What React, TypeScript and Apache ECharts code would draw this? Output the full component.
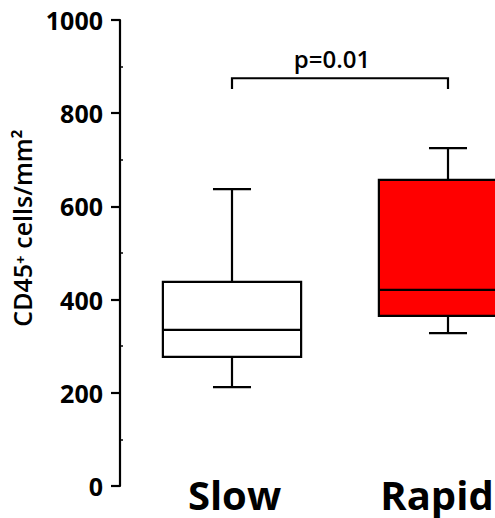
import React, { useEffect, useRef } from "react";
import * as echarts from "echarts";

const categories = ["Slow", "Rapid"];
// [categoryIndex, min, Q1, median, Q3, max]
const slowBox = [0, 212, 277, 335, 438, 637];
const rapidBox = [1, 328, 365, 421, 657, 725];
const boxFills = ["#ffffff", "#ff0000"];
// [fromCategory, toCategory, bracketValue, legEndValue]
const bracket = [0, 1, 875, 852];
const pLabel = "p=0.01";
const yTicks = [0, 200, 400, 600, 800, 1000];
const yMinorTicks = [100, 300, 500, 700, 900];
const yTitle = "CD45\u207A cells/mm\u00B2";

const FONT = "'Open Sans', 'DejaVu Sans', sans-serif";

export default function App() {
  const ref = useRef<HTMLDivElement>(null);
  useEffect(() => {
    if (!ref.current) return;
    const chart = echarts.init(ref.current, undefined, { renderer: "svg" });
    const lw = 2.2;
    const catStyle = { fontFamily: FONT, fontSize: 40, fontWeight: "bold", color: "#000" };
    chart.setOption({
      animation: false,
      backgroundColor: "#ffffff",
      grid: { left: 124, top: 20, height: 466, width: 432, outerBoundsMode: "none", containLabel: false },
      xAxis: {
        type: "category",
        data: categories,
        axisLine: { show: false },
        axisTick: { show: false },
        splitLine: { show: false },
        axisLabel: {
          ...catStyle,
          margin: -12,
          interval: 0,
          hideOverlap: false,
          showMinLabel: true,
          showMaxLabel: true,
          formatter: (v: string, i: number) => (i === 0 ? `{a|${v}}` : `{b|${v}}`),
          rich: {
            a: { ...catStyle, padding: [0, 0, 0, 5] },
            b: { ...catStyle, padding: [0, 22, 0, 0] },
          },
        },
      },
      yAxis: [
        {
          type: "value",
          min: yTicks[0],
          max: yTicks[yTicks.length - 1],
          interval: 200,
          offset: 4,
          name: yTitle,
          nameLocation: "middle",
          nameRotate: 90,
          nameGap: 80,
          nameTextStyle: {
            fontFamily: FONT,
            fontSize: 25,
            fontWeight: 600,
            color: "#000",
            padding: [0, 0, 0, 50],
          },
          axisLine: { show: true, lineStyle: { color: "#000", width: 2.2 } },
          axisTick: { show: true, length: 9, lineStyle: { color: "#000", width: 2.2 } },
          splitLine: { show: false },
          axisLabel: {
            fontFamily: FONT,
            fontSize: 25,
            fontWeight: "bold",
            color: "#000",
            margin: 17,
            formatter: (v: number) => String(v),
          },
        },
        {
          type: "value",
          min: yTicks[0],
          max: yTicks[yTicks.length - 1],
          position: "left",
          offset: 4,
          axisLine: { show: false },
          axisLabel: { show: false },
          splitLine: { show: false },
          axisTick: {
            show: true,
            inside: true,
            length: 3,
            customValues: yMinorTicks,
            lineStyle: { color: "#000", width: 1.5 },
          },
        },
      ],
      series: [
        {
          type: "custom",
          clip: false,
          data: [slowBox, rapidBox],
          encode: { x: 0, y: [1, 2, 3, 4, 5] },
          renderItem: (params: any, api: any) => {
            const c = api.value(0);
            const pMin = api.coord([c, api.value(1)]);
            const pQ1 = api.coord([c, api.value(2)]);
            const pMed = api.coord([c, api.value(3)]);
            const pQ3 = api.coord([c, api.value(4)]);
            const pMax = api.coord([c, api.value(5)]);
            const band = api.size([1, 0])[0];
            const bw = band * 0.64;
            const cw = band * 0.176;
            const x = pMed[0];
            const stroke = { stroke: "#000", lineWidth: lw, fill: null };
            return {
              type: "group",
              children: [
                { type: "line", shape: { x1: x, y1: pMax[1], x2: x, y2: pQ3[1] }, style: stroke },
                { type: "line", shape: { x1: x, y1: pQ1[1], x2: x, y2: pMin[1] }, style: stroke },
                { type: "line", shape: { x1: x - cw / 2, y1: pMax[1], x2: x + cw / 2, y2: pMax[1] }, style: stroke },
                { type: "line", shape: { x1: x - cw / 2, y1: pMin[1], x2: x + cw / 2, y2: pMin[1] }, style: stroke },
                {
                  type: "rect",
                  shape: { x: x - bw / 2, y: pQ3[1], width: bw, height: pQ1[1] - pQ3[1] },
                  style: { fill: boxFills[params.dataIndex], stroke: "#000", lineWidth: lw },
                },
                { type: "line", shape: { x1: x - bw / 2, y1: pMed[1], x2: x + bw / 2, y2: pMed[1] }, style: stroke },
              ],
            };
          },
        },
        {
          type: "custom",
          clip: false,
          data: [bracket],
          encode: { x: [0, 1], y: [2, 3] },
          renderItem: (params: any, api: any) => {
            const a = api.coord([api.value(0), api.value(2)]);
            const b = api.coord([api.value(1), api.value(2)]);
            const legY = api.coord([api.value(0), api.value(3)])[1];
            return {
              type: "group",
              children: [
                {
                  type: "polyline",
                  shape: { points: [[a[0], legY], [a[0], a[1]], [b[0], b[1]], [b[0], legY]] },
                  style: { stroke: "#000", lineWidth: lw, fill: null },
                },
                {
                  type: "text",
                  style: {
                    x: (a[0] + b[0]) / 2 - 8,
                    y: a[1] - 8,
                    text: pLabel,
                    align: "center",
                    verticalAlign: "bottom",
                    fontFamily: FONT,
                    fontSize: 24,
                    fontWeight: 600,
                    fill: "#000",
                  },
                },
              ],
            };
          },
        },
      ],
    });
    return () => chart.dispose();
  }, []);
  return <div ref={ref} style={{ width: 495, height: 518, position: "absolute", left: 0, top: 0 }} />;
}
